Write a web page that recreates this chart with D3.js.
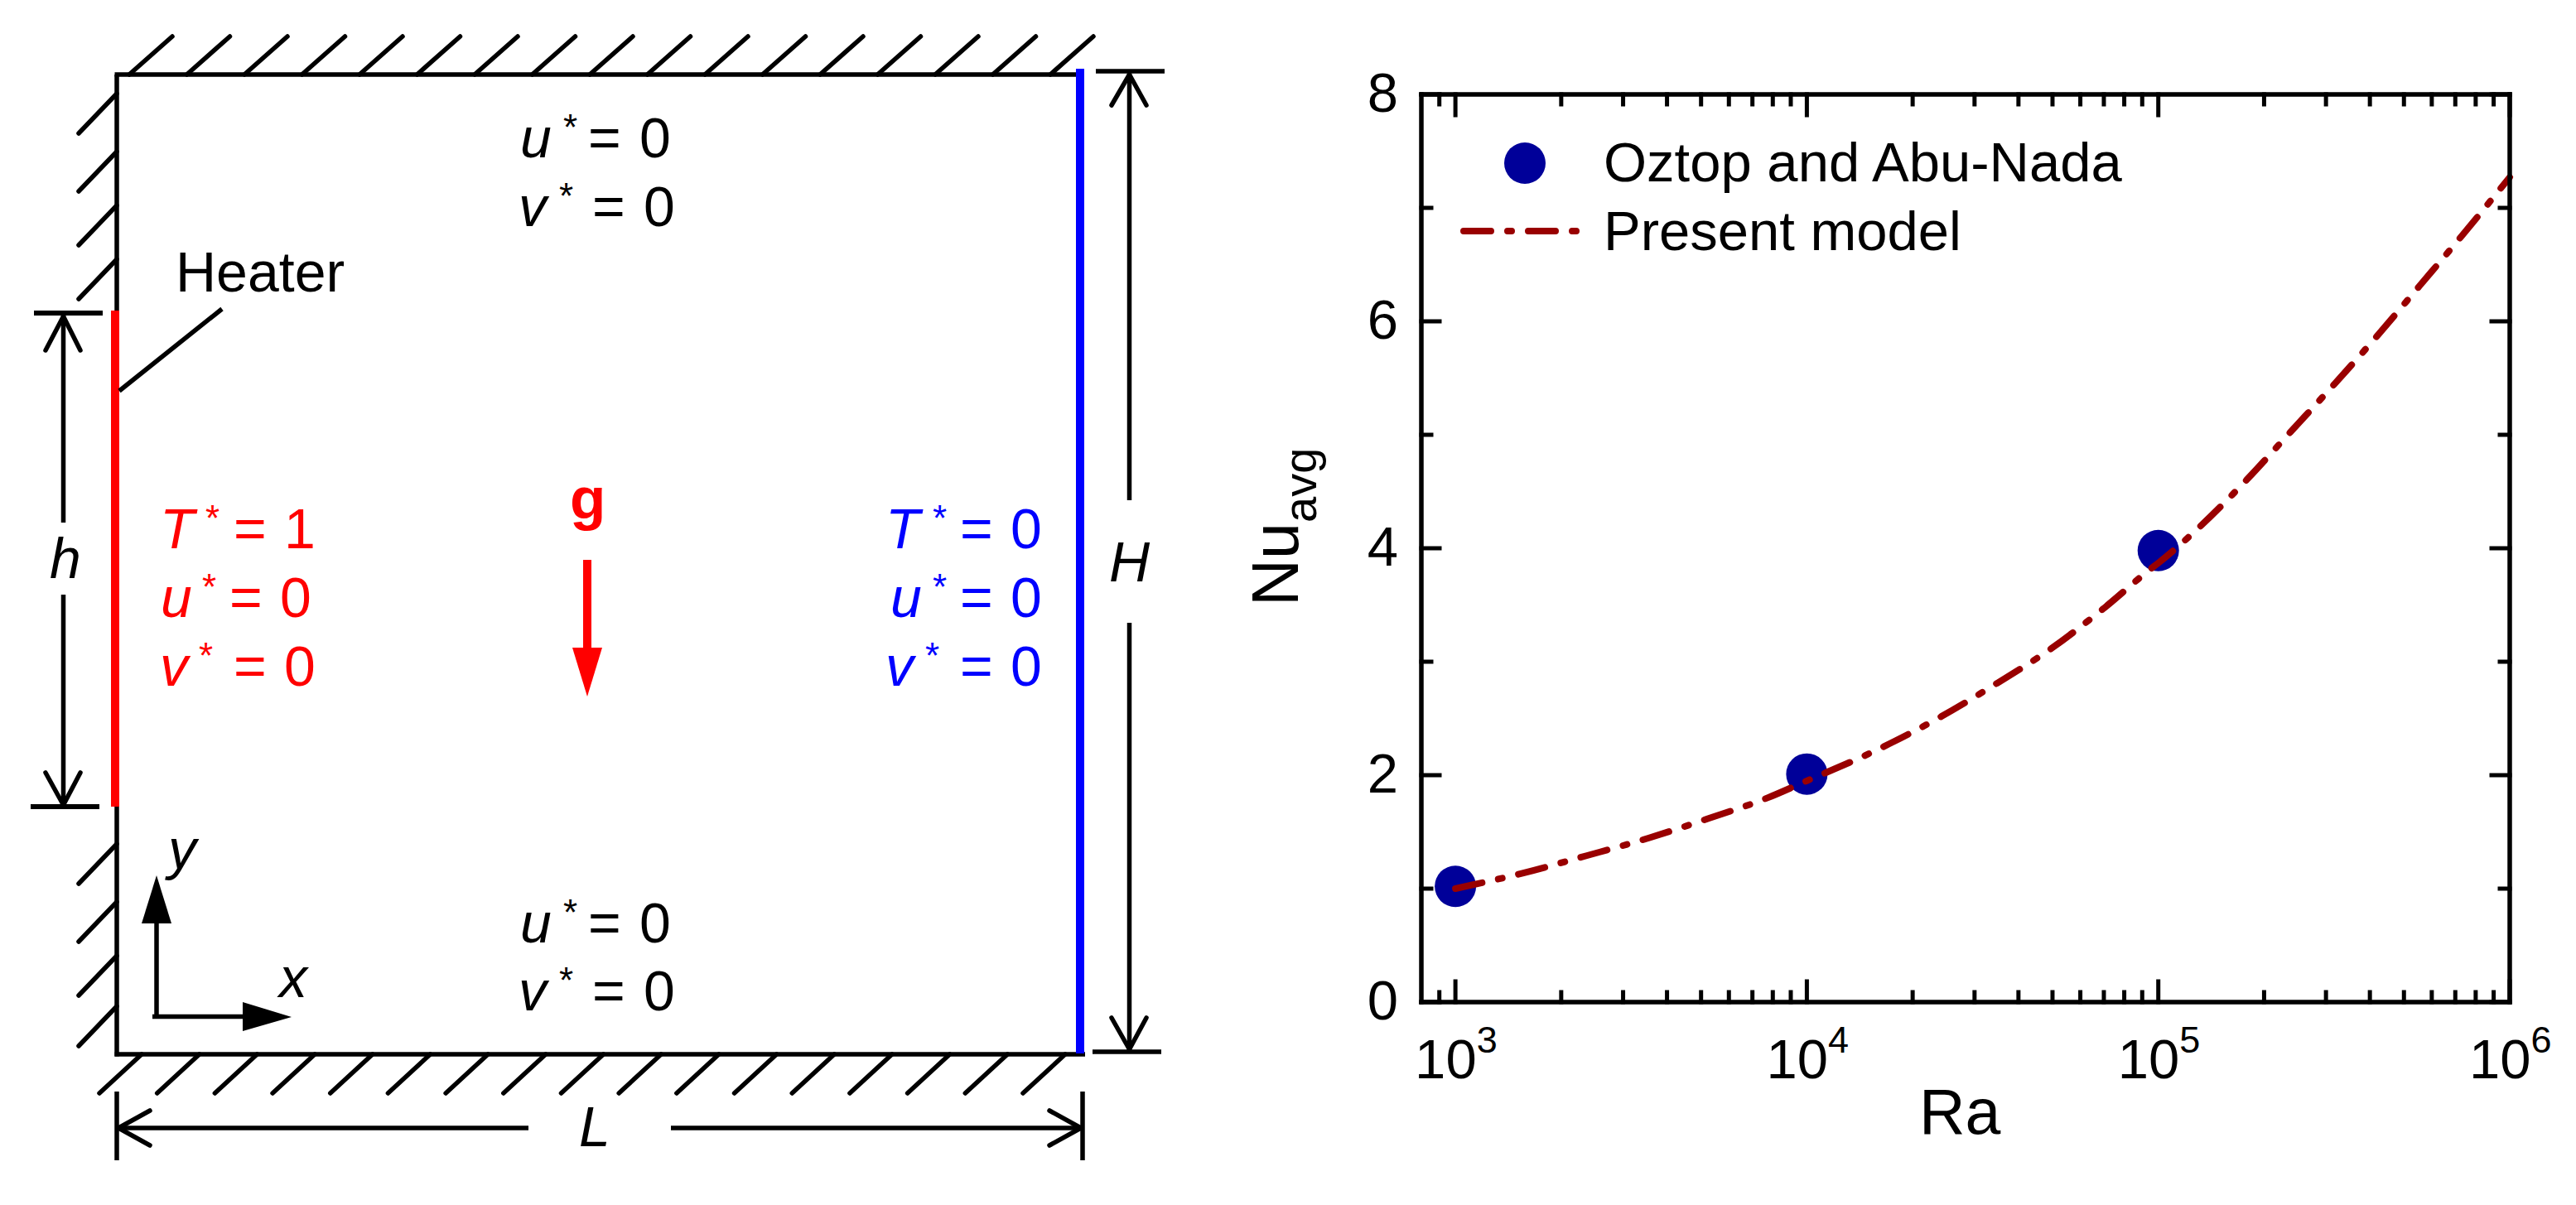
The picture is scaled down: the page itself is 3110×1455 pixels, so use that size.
<!DOCTYPE html>
<html>
<head>
<meta charset="utf-8">
<script src="https://cdn.jsdelivr.net/npm/d3@7"></script>
<style>
  body { margin: 0; background: #fff; }
  text { font-family: "Liberation Sans", Arial, sans-serif; }
</style>
</head>
<body>
<svg id="figure" width="3110" height="1455"></svg>
<script>
// right panel data
const oztopRa = [1000, 10000, 100000];
const oztopNu = [1.02, 2.01, 3.98];

const modelRa = [1000, 1553, 2360, 3556, 5270, 7727, 10000, 15030, 24150, 34750, 49800, 69300, 95300, 100000, 131300, 178000, 237000, 317700, 419000, 553000, 729000, 1000000];
const modelNu = [1.0, 1.136, 1.29, 1.447, 1.62, 1.80, 1.95, 2.19, 2.518, 2.81, 3.12, 3.46, 3.82, 3.87, 4.19, 4.60, 5.02, 5.45, 5.87, 6.31, 6.75, 7.27];

const raMajorTicks = [1000, 10000, 100000, 1000000];
const raExponents = ["3", "4", "5", "6"];
const raMinorTicks = [900, 2000, 3000, 4000, 5000, 6000, 7000, 8000, 9000, 20000, 30000, 40000, 50000, 60000, 70000, 80000, 90000, 200000, 300000, 400000, 500000, 600000, 700000, 800000, 900000];
const nuMajorTicks = [0, 2, 4, 6, 8];
const nuMinorTicks = [1, 3, 5, 7];

const legendLabels = ["Oztop and Abu-Nada", "Present model"];

// left panel text
const hotWall = [["T", "1"], ["u", "0"], ["v", "0"]];
const coldWall = [["T", "0"], ["u", "0"], ["v", "0"]];
const adiabaticWall = [["u", "0"], ["v", "0"]];

const svg = d3.select("#figure");
const black = "#000";
const red = "#ff0000";
const blue = "#0000ff";
const dotBlue = "#000099";
const lineRed = "#990000";
const fontMain = 68;

const left = svg.append("g").attr("class", "schematic");

const stroke = (x1, y1, x2, y2, color = black, width = 5.5, cap = "butt") => {
  left.append("line")
    .attr("x1", x1).attr("y1", y1)
    .attr("x2", x2).attr("y2", y2)
    .attr("stroke", color)
    .attr("stroke-width", width)
    .attr("stroke-linecap", cap);
};

const label = (text, x, y, style = "italic", color = black, size = fontMain, weight = "normal") => {
  left.append("text")
    .attr("x", x).attr("y", y)
    .attr("font-size", size)
    .attr("font-style", style)
    .attr("font-weight", weight)
    .attr("fill", color)
    .text(text);
};

// name, star, equals, number as one text so it stays readable
const equation = (entry, xs, y, color) => {
  const t = left.append("text")
    .attr("y", y)
    .attr("font-size", fontMain)
    .attr("fill", color);
  t.append("tspan").attr("x", xs[0]).attr("font-style", "italic").text(entry[0]);
  t.append("tspan").attr("x", xs[1]).attr("dy", -21).attr("font-size", 44).text("*");
  t.append("tspan").attr("x", xs[2]).attr("dy", 21).text("=");
  t.append("tspan").attr("x", xs[3]).text(entry[1]);
};

// walls and their hatching
stroke(138.5, 90, 1299, 90);
stroke(141, 90, 141, 375);
stroke(141, 974, 141, 1275.5);
stroke(138.5, 1273, 1310, 1273);

const hatchTop = d3.scaleLinear().domain([0, 16]).range([156, 1268]);
const hatchBottom = d3.scaleLinear().domain([0, 16]).range([171, 1286]);
d3.range(17).forEach(i => {
  stroke(hatchTop(i), 90, hatchTop(i) + 52, 44, black, 5.5, "round");
  stroke(hatchBottom(i), 1273, hatchBottom(i) - 51, 1320, black, 5.5, "round");
});
[113, 183, 248, 313, 1019, 1089, 1154, 1215].forEach(y => {
  stroke(141, y, 95, y + 48, black, 5.5, "round");
});

// heater and cold wall
stroke(139, 375, 139, 974, red, 10);
stroke(1304, 83, 1304, 1272, blue, 10);

// heater leader
stroke(144, 472, 268, 373);
label("Heater", 212, 352, "normal");

// dimension h
stroke(41, 378, 124, 378, black, 6);
stroke(37, 974, 120, 974, black, 6);
stroke(76.5, 382, 76.5, 631);
stroke(76.5, 718, 76.5, 970);
[[55, 423, 76.5, 382], [97, 423, 76.5, 382], [55, 933, 76.5, 972], [97, 933, 76.5, 972]].forEach(s => stroke(...s, black, 5.5, "round"));
label("h", 60, 698);

// dimension H
stroke(1323, 86, 1406, 86);
stroke(1319, 1270, 1402, 1270);
stroke(1363.5, 90, 1363.5, 604);
stroke(1363.5, 752, 1363.5, 1267);
[[1342, 127, 1363.5, 90], [1384, 127, 1363.5, 90], [1342, 1229, 1363.5, 1267], [1384, 1229, 1363.5, 1267]].forEach(s => stroke(...s, black, 5.5, "round"));
label("H", 1339, 702);

// dimension L
stroke(141, 1318, 141, 1401);
stroke(1307, 1318, 1307, 1401);
stroke(144, 1362, 638, 1362);
stroke(810, 1362, 1304, 1362);
[[181, 1341, 143, 1362], [181, 1383, 143, 1362], [1267, 1341, 1305, 1362], [1267, 1383, 1305, 1362]].forEach(s => stroke(...s, black, 5.5, "round"));
label("L", 699, 1384);

// coordinate arrows
stroke(189, 1115, 189, 1228);
stroke(184, 1227.5, 293, 1227.5);
left.append("path").attr("d", d3.line()([[189, 1057], [207, 1115], [171, 1115]]) + "Z").attr("fill", black);
left.append("path").attr("d", d3.line()([[352, 1228], [293, 1210], [293, 1245]]) + "Z").attr("fill", black);
label("y", 203, 1049);
label("x", 337, 1204);

// gravity
label("g", 688, 626, "normal", red, 71, "bold");
stroke(709, 676, 709, 782, red, 10);
left.append("path").attr("d", d3.line()([[709, 841], [727, 782], [691, 782]]) + "Z").attr("fill", red);

// boundary conditions
const hotXs = [[193, 248, 282, 343], [194, 244, 277, 338], [193, 240, 282, 343]];
const coldXs = [[1069, 1126, 1159, 1220], [1075, 1126, 1159, 1220], [1069, 1117, 1159, 1220]];
hotWall.forEach((e, i) => equation(e, hotXs[i], [662, 745, 828][i], red));
coldWall.forEach((e, i) => equation(e, coldXs[i], [662, 745, 828][i], blue));
const topXs = [[628, 680, 710, 772], [626, 675, 715, 777]];
adiabaticWall.forEach((e, i) => {
  equation(e, topXs[i], [190, 273][i], black);
  equation(e, topXs[i], [1138, 1220][i], black);
});

// right panel
const x = d3.scaleLog().domain([800, 1000000]).range([1716, 3030]);
const y = d3.scaleLinear().domain([0, 8]).range([1210, 114]);

const right = svg.append("g").attr("class", "plot");

const model = modelRa.map((ra, i) => ({ ra, nu: modelNu[i] }));
const oztop = oztopRa.map((ra, i) => ({ ra, nu: oztopNu[i] }));

right.selectAll("circle.oztop")
  .data(oztop)
  .join("circle")
  .attr("class", "oztop")
  .attr("cx", d => x(d.ra))
  .attr("cy", d => y(d.nu))
  .attr("r", 25)
  .attr("fill", dotBlue);

const curve = d3.line()
  .x(d => x(d.ra))
  .y(d => y(d.nu))
  .curve(d3.curveMonotoneX);

const dashes = "33 20 5 20";

right.append("path")
  .datum(model)
  .attr("d", curve)
  .attr("fill", "none")
  .attr("stroke", lineRed)
  .attr("stroke-width", 8)
  .attr("stroke-linecap", "round")
  .attr("stroke-dasharray", dashes);

// axes: major and minor ticks on all four sides, pointing inward
const drawAxis = (axis, dx, dy, values, size, format) => {
  const g = right.append("g")
    .attr("transform", `translate(${dx},${dy})`)
    .call(axis.tickValues(values).tickSize(-size).tickSizeOuter(0).offset(0).tickFormat(format));
  g.selectAll("path, line").attr("stroke", black).attr("stroke-width", 5).attr("stroke-linecap", "square");
  g.attr("font-family", null).attr("font-size", 67);
  g.selectAll("text").attr("fill", black);
  return g;
};

const none = () => "";

drawAxis(d3.axisBottom(x), 0, 1210, raMinorTicks, 12, none);
drawAxis(d3.axisTop(x), 0, 114, raMinorTicks, 12, none);
drawAxis(d3.axisTop(x), 0, 114, raMajorTicks, 25, none);
drawAxis(d3.axisRight(y), 3030, 0, nuMajorTicks, 22, none);
drawAxis(d3.axisRight(y), 3030, 0, nuMinorTicks, 12, none);
drawAxis(d3.axisLeft(y), 1716, 0, nuMinorTicks, 12, none);
drawAxis(d3.axisLeft(y).tickPadding(28), 1716, 0, nuMajorTicks, 22, d3.format("d"));

const bottomMajor = drawAxis(d3.axisBottom(x), 0, 1210, raMajorTicks, 25, () => "10");
bottomMajor.selectAll("text")
  .attr("x", -49)
  .attr("y", 92)
  .attr("dy", 0)
  .attr("text-anchor", "start")
  .append("tspan")
  .attr("dy", -31)
  .attr("font-size", 45)
  .text((d, i) => raExponents[i]);

right.append("text")
  .attr("x", 2317).attr("y", 1369)
  .attr("font-size", 77)
  .text("Ra");

const nuLabel = right.append("text")
  .attr("transform", "translate(1567,732) rotate(-90)")
  .attr("font-size", 79)
  .text("Nu");
nuLabel.append("tspan")
  .attr("dy", 22)
  .attr("font-size", 56)
  .text("avg");

// legend
right.append("circle")
  .attr("cx", 1841).attr("cy", 197).attr("r", 25)
  .attr("fill", dotBlue);
right.append("line")
  .attr("x1", 1767).attr("x2", 1904)
  .attr("y1", 279).attr("y2", 279)
  .attr("stroke", lineRed)
  .attr("stroke-width", 8)
  .attr("stroke-linecap", "round")
  .attr("stroke-dasharray", dashes);
right.selectAll("text.legend")
  .data(legendLabels)
  .join("text")
  .attr("class", "legend")
  .attr("x", 1936)
  .attr("y", (d, i) => [219, 302][i])
  .attr("font-size", 67)
  .text(d => d);
</script>
</body>
</html>
